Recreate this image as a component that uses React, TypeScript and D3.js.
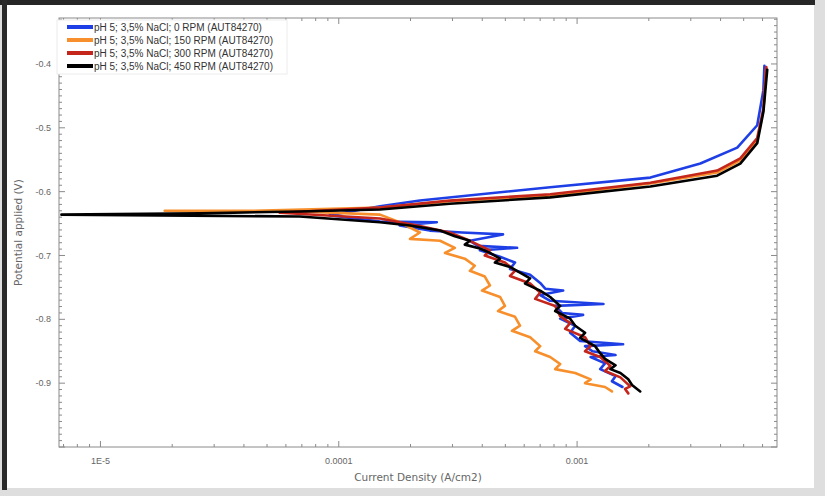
import * as d3 from 'd3';

// Tafel scans, [current density A/cm2, potential V]
const rpm0: [number, number][] = [
  [1.55e-3, -0.906], [1.40e-3, -0.897], [1.45e-3, -0.889], [1.25e-3, -0.878], [1.31e-3, -0.869],
  [1.14e-3, -0.859], [1.45e-3, -0.856], [1.16e-3, -0.850], [1.08e-3, -0.842], [1.56e-3, -0.839],
  [1.03e-3, -0.834], [9.35e-4, -0.821], [9.82e-4, -0.810], [8.49e-4, -0.799], [1.06e-3, -0.793],
  [8.65e-4, -0.790], [8.09e-4, -0.779], [1.29e-3, -0.776], [7.71e-4, -0.771], [7.00e-4, -0.762],
  [8.74e-4, -0.755], [7.35e-4, -0.752], [7.00e-4, -0.743], [6.35e-4, -0.730], [5.23e-4, -0.721],
  [5.49e-4, -0.711], [4.75e-4, -0.702], [3.91e-4, -0.692], [5.60e-4, -0.688], [3.84e-4, -0.685],
  [3.55e-4, -0.677], [4.89e-4, -0.667], [3.29e-4, -0.664], [2.41e-4, -0.661], [1.80e-4, -0.653],
  [2.58e-4, -0.648], [1.49e-4, -0.647], [9.16e-5, -0.637], [1.49e-4, -0.623], [2.19e-4, -0.614],
  [7.71e-4, -0.593], [2.03e-3, -0.578], [3.29e-3, -0.556], [4.70e-3, -0.531], [5.70e-3, -0.496],
  [6.05e-3, -0.441], [6.11e-3, -0.403]
];

const rpm150: [number, number][] = [
  [1.40e-3, -0.913], [1.31e-3, -0.906], [1.08e-3, -0.900], [1.14e-3, -0.894], [9.82e-4, -0.884],
  [8.09e-4, -0.878], [8.49e-4, -0.870], [7.71e-4, -0.859], [6.67e-4, -0.850], [7.00e-4, -0.842],
  [6.35e-4, -0.828], [5.33e-4, -0.818], [5.76e-4, -0.810], [5.49e-4, -0.796], [4.66e-4, -0.787],
  [4.98e-4, -0.779], [4.75e-4, -0.765], [3.99e-4, -0.755], [4.31e-4, -0.747], [4.10e-4, -0.733],
  [3.55e-4, -0.724], [3.72e-4, -0.716], [3.38e-4, -0.705], [2.79e-4, -0.696], [3.07e-4, -0.688],
  [2.66e-4, -0.677], [1.99e-4, -0.674], [2.19e-4, -0.664], [1.80e-4, -0.648], [1.49e-4, -0.636],
  [6.86e-5, -0.631], [1.86e-5, -0.630], [4.23e-5, -0.630], [1.49e-4, -0.625], [2.92e-4, -0.615],
  [7.71e-4, -0.606], [2.03e-3, -0.587], [3.87e-3, -0.570], [4.84e-3, -0.551], [5.70e-3, -0.519],
  [6.05e-3, -0.472], [6.22e-3, -0.406]
];

const rpm300: [number, number][] = [
  [1.64e-3, -0.916], [1.59e-3, -0.909], [1.67e-3, -0.905], [1.52e-3, -0.891], [1.31e-3, -0.881],
  [1.38e-3, -0.873], [1.25e-3, -0.859], [1.08e-3, -0.850], [1.14e-3, -0.842], [1.08e-3, -0.828],
  [8.91e-4, -0.815], [9.35e-4, -0.806], [8.49e-4, -0.795], [8.09e-4, -0.779], [6.67e-4, -0.768],
  [7.00e-4, -0.758], [6.35e-4, -0.744], [5.23e-4, -0.732], [5.49e-4, -0.724], [4.98e-4, -0.711],
  [4.10e-4, -0.700], [4.31e-4, -0.692], [3.55e-4, -0.677], [2.92e-4, -0.664], [2.19e-4, -0.654],
  [1.49e-4, -0.642], [5.65e-5, -0.633], [1.49e-4, -0.625], [2.92e-4, -0.614], [7.71e-4, -0.604],
  [2.03e-3, -0.586], [3.87e-3, -0.567], [4.84e-3, -0.548], [5.70e-3, -0.516], [6.05e-3, -0.470],
  [6.22e-3, -0.405]
];

const rpm450: [number, number][] = [
  [1.84e-3, -0.913], [1.70e-3, -0.903], [1.64e-3, -0.894], [1.52e-3, -0.884], [1.38e-3, -0.878],
  [1.45e-3, -0.872], [1.31e-3, -0.862], [1.25e-3, -0.853], [1.19e-3, -0.842], [1.03e-3, -0.829],
  [1.08e-3, -0.821], [9.82e-4, -0.810], [9.35e-4, -0.799], [8.09e-4, -0.787], [8.49e-4, -0.779],
  [7.71e-4, -0.765], [7.00e-4, -0.755], [6.05e-4, -0.744], [6.35e-4, -0.736], [5.76e-4, -0.727],
  [5.23e-4, -0.718], [4.52e-4, -0.711], [4.75e-4, -0.705], [4.31e-4, -0.696], [3.91e-4, -0.689],
  [3.38e-4, -0.683], [3.55e-4, -0.677], [3.07e-4, -0.670], [2.66e-4, -0.661], [1.99e-4, -0.653],
  [1.49e-4, -0.648], [6.86e-5, -0.639], [6.86e-6, -0.636], [2.61e-5, -0.634], [6.86e-5, -0.631],
  [1.49e-4, -0.628], [2.92e-4, -0.619], [7.71e-4, -0.609], [2.03e-3, -0.592], [3.87e-3, -0.575],
  [4.84e-3, -0.556], [5.70e-3, -0.524], [6.05e-3, -0.475], [6.28e-3, -0.409]
];

const seriesNames = [
  'pH 5; 3,5% NaCl; 0 RPM (AUT84270)',
  'pH 5; 3,5% NaCl; 150 RPM (AUT84270)',
  'pH 5; 3,5% NaCl; 300 RPM (AUT84270)',
  'pH 5; 3,5% NaCl; 450 RPM (AUT84270)'
];
const seriesColors = ['#1f3fe6', '#f7902c', '#c4261b', '#000000'];
const seriesData = [rpm0, rpm150, rpm300, rpm450];

const xMajor = [1e-5, 1e-4, 1e-3];
const xLabels = ['1E-5', '0.0001', '0.001'];
const yMajor = [-0.4, -0.5, -0.6, -0.7, -0.8, -0.9];

const W = 825;
const H = 496;
const box = { left: 59, right: 777, top: 18, bottom: 447 };

function App() {
  const x = d3.scaleLog().domain([6.7e-6, 6.9e-3]).range([box.left, box.right]);
  const y = d3.scaleLinear().domain([-1.0, -0.328]).range([box.bottom, box.top]);

  const line = d3.line<[number, number]>()
    .x(d => x(d[0]))
    .y(d => y(d[1]));

  const [x0, x1] = x.domain();
  const xMinor: number[] = [];
  for (let e = -6; e <= -2; e++) {
    for (let k = 1; k <= 9; k++) {
      const v = k * Math.pow(10, e);
      if (v >= x0 && v <= x1) xMinor.push(v);
    }
  }
  const yMinor = d3.range(-100, -32).map(v => v / 100);

  const axisColor = '#8a8a8a';
  const tickFont = 'Liberation Sans, Arial, sans-serif';

  return (
    <svg width={W} height={H} style={{ position: 'absolute', left: 0, top: 0 }}
      fontFamily={tickFont}>
      {/* screenshot frame */}
      <rect x={0} y={0} width={W} height={H} fill="#dedede" />
      <rect x={5} y={5} width={809} height={483} fill="#ffffff" />
      <rect x={0} y={0} width={W - 10} height={5} fill="#262626" />
      <rect x={2} y={0} width={5} height={H - 6} fill="#2a2a2a" />

      <defs>
        <clipPath id="plotclip">
          <rect x={box.left} y={box.top} width={box.right - box.left} height={box.bottom - box.top} />
        </clipPath>
      </defs>
      <g clipPath="url(#plotclip)">
        {seriesData.map((s, i) => (
          <path key={i} d={line(s) || ''} fill="none" stroke={seriesColors[i]}
            strokeWidth={2.6} strokeLinejoin="round" strokeLinecap="round" />
        ))}
      </g>

      {/* box */}
      <rect x={box.left} y={box.top} width={box.right - box.left} height={box.bottom - box.top}
        fill="none" stroke={axisColor} strokeWidth={1} />

      {/* x ticks */}
      {xMinor.map((v, i) => {
        const major = xMajor.some(m => Math.abs(m - v) / m < 1e-6);
        const len = major ? 6 : 3;
        return (
          <g key={'xt' + i} stroke={axisColor}>
            <line x1={x(v)} x2={x(v)} y1={box.bottom} y2={box.bottom - len} />
            <line x1={x(v)} x2={x(v)} y1={box.top} y2={box.top + len} />
          </g>
        );
      })}
      {xMajor.map((v, i) => (
        <text key={'xl' + i} x={x(v)} y={box.bottom + 17} textAnchor="middle"
          fontSize={9} fill="#666">{xLabels[i]}</text>
      ))}

      {/* y ticks */}
      {yMinor.map((v, i) => {
        const major = Math.abs(Math.round(v * 10) - v * 10) < 1e-6;
        const len = major ? 6 : 3;
        return (
          <g key={'yt' + i} stroke={axisColor}>
            <line x1={box.left} x2={box.left + len} y1={y(v)} y2={y(v)} />
            <line x1={box.right} x2={box.right - len} y1={y(v)} y2={y(v)} />
          </g>
        );
      })}
      {yMajor.map((v, i) => (
        <text key={'yl' + i} x={box.left - 8} y={y(v)} dy="0.35em" textAnchor="end"
          fontSize={9} fill="#666">{v.toFixed(1)}</text>
      ))}

      {/* axis titles */}
      <text x={(box.left + box.right) / 2} y={481} textAnchor="middle" fontSize={10.5}
        fill="#666" fontFamily="DejaVu Sans, sans-serif">Current Density (A/cm2)</text>
      <text transform={`translate(22,${(box.top + box.bottom) / 2}) rotate(-90)`} textAnchor="middle"
        fontSize={10.5} fill="#666" fontFamily="DejaVu Sans, sans-serif">Potential applied (V)</text>

      {/* legend */}
      <rect x={57} y={20} width={230} height={54} fill="#fff" stroke="#ececec" />
      {seriesNames.map((n, i) => (
        <g key={'lg' + i} transform={`translate(0,${27 + i * 13})`}>
          <line x1={67} x2={93} y1={0} y2={0} stroke={seriesColors[i]} strokeWidth={4} />
          <text x={94} y={0} dy="0.35em" fontSize={10} fill="#333">{n}</text>
        </g>
      ))}
    </svg>
  );
}

export default App;
